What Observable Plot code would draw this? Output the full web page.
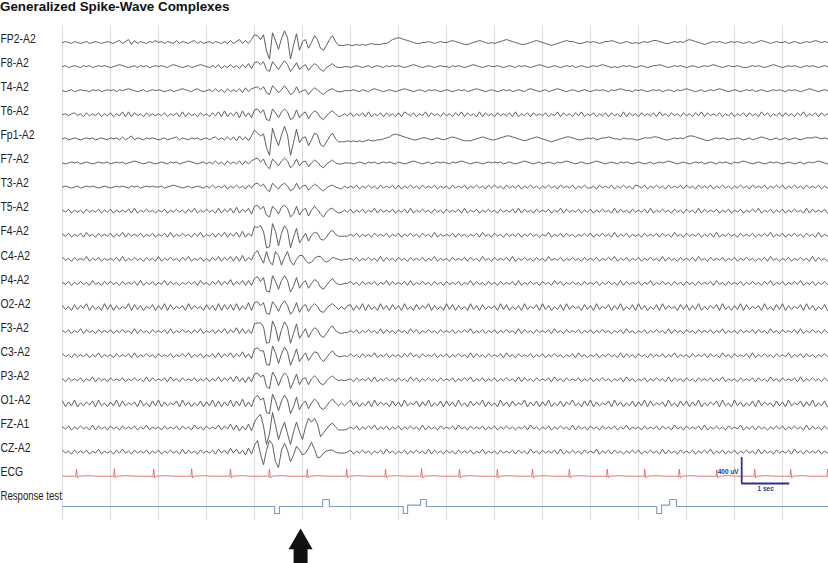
<!DOCTYPE html>
<html><head><meta charset="utf-8">
<script src="https://cdn.jsdelivr.net/npm/d3@7"></script>
<script src="https://cdn.jsdelivr.net/npm/@observablehq/plot@0.6"></script>
<style>
html,body{margin:0;padding:0;background:#fff;}
#title{height:20px;font:bold 13.4px "Liberation Sans",Arial,sans-serif;line-height:14px;color:#111;padding-left:0;white-space:nowrap;}
</style></head>
<body>
<div id="title">Generalized Spike-Wave Complexes</div>
<div id="chart"></div>
<script>
// ---- data -------------------------------------------------------------
// each EEG channel: 16 one-second segments, 16 samples each; char -> offset ('i' = 0, 1 step ~ 15 uV)
const FP2_A2 = "ijihjihijhijihij ihjkhjlgkhjihjik ijhjihkhjihjkhjh ijhjihjhkhjlhkhl qplq91skbmun1fra jlciplcaflpjfffg ffgfgfghggghhjlm nmlkjihhiijihiji ijkjihgghijkjihi hijklkjihgghijkj ihgfghijkjjihhij ijihijjkjihijihi hijijkkjihhijiji klkjihghijijihij ijihijhijkjihiji ijhijihijijkjiji";
const F8_A2 = "ijhijihjijhijiji hijkjihijhjijhij ijihjkjihijhijkj ihjhkgjhkhjgkhlg mnknfdnjfkokdhmf ikeiljfdhjlihhii hijihijhijihjiji jihijkjihijihiji ihjijihijkjihiji ijihijihjijihijk jihijihijijhijih ijijkjihihijijih ijihijjkjihijiji hijihijijkjihiji ijihhijijihijkji hijijihijijihiji";
const T4_A2 = "ihijhijiihjijhij ijhjijkjihijhiji jihijhijkjihjkih ijhkhjgkhjhkglhk lmjmgenkgjnjegmg ijeiljgehjkihhii ijihjihjkjihijih ijkjihijihjijihi jihijijhijkjihij ihijijhijihjkjih ijhijkjihijihiji hijijihjijkjiihj ijihijijhijihjij kjihijhijijkjihi jihijijhijihijij ihjijihijkjihiji";
const T6_A2 = "ijhjkhjgkhjhkgjh kgjhlglgkhjgkhjh jhkgjhkglgkhjgkh jgkhlgmgkhlfmgkf nokndcokfloldfnf jlejmkfdhkmjghjh kgjhkglgjhkgkhjg kgljhkgjhlgkhjgk hjgkhlgkhjglgkhj gkhjhkglgjhkgkhj hkgjhlgkhjgkhlgj hkgjhkgkhjglgkhj gkhjhkglhjgkhjgk hjgkhlgkhjhkgjhk gjhkgkhjglhkgjhk gkhjgkhlgjhkgkhj";
const Fp1_A2 = "ijhijihijijhijih jijhkhjlhjihjiji hijhijkhjihjijhi jhjkhjhkhkglhkgl roln91tjbmvm1ese jkbhomcafkoifffg fgfgfghgghhijkmn mlkjihhijjihijih ijkjihggghijkjih hijkllkjihghijkj ihgfghijkkjihhij ijhijjkjiihjiiih hijjjkkjihhijiji kllkjihghijijihi ijihijhijkjihijh ijhijihijjjkjiji";
const F7_A2 = "ihijijhijihijiij hijijhijkjihijih ijihjijhijkjihij hjhkhjgkhjhkgkhk mnjmfcmjfknkdgmf jkeiljfdhjlihhii ihijihjijhijijih jihijkjihijhijij ihjijkjihijihiji jijhijihijkjihij hijihjijkjihijih ijkjihijihjijihi jihijhijijkjihij ihijijhijihjijih jijkjihijihijiji hijihijhijijkjih";
const T3_A2 = "ijihijhijijihiji hijijihjijhijiji ijhijkjihijhijih jhkhjhkgjhkhjgkh lmjlgdmjgkmjegmg jkfiljgehjkihgjh jhkgjhkhjgkhjhkg kgjhkhjgkhjhkgjh jgkhjhkgjhkhjgkh khjgkhjhkgjhkhjg jhkhjgkhjhkgjhkh hjgkhjhkgjhkhjgk jhkgjhkhjgkhjhkg khjgkhjhkgjhkhjg jhkhjgkhjhkgjhkh kgjhkhjgkhjhkgjh";
const T5_A2 = "jhkgjhjgkhjhkgjh kgjhjhkglgjhkhjg jhkgjhkhjgkhlgjh khjglgkhlgmgkhlf noknecnkfmolcfne jldjnkfchklighjh kgjhkgjhlgkhjhkg jhkglgjhkhjgkhjg khjhkglgjhkgjhkh jgkhjhkglgkhjgkh jhkgjhlgkhjhkgjh kgjhkhjglgkhjgkh jhkglgjhkhjgkhjg khjglgkhjhkgjhkg jhkgjhkhlgjhkgjh kgjhkhjglgkhjhkg";
const F4_A2 = "jhkgjhkglhjgkhjh kgjhlgkhjhkgjhkg jhkglgjhkhjgkhlg jhkgkhlgkhlgmgkh rqsm56um7ksn5gpa fkcilkedglnjhhhh jhkgjhjgkhjhkgjh kgjhkhjgkhjglgjh jhkgkhjgjhkglhjg khjgkhjhkgjhkhjg jhlgjhkgkhjgjhkh kgjhkhjglgjhkgjh jgkhjhkgkhjglhjg khjhkgjhkglgjhkh jgkhjhkgjhkhlgjh kgjhkhjgkhjglgjh";
const C4_A2 = "khjgkhjhlgjhkgjh jhkglgjhkhjgkhjg lgjhkhjgkhlgjhkg jgkhlgkhlglgmgkh orkeqgcqmckqgcim mhefjllhfhkjihii jhkgjhkhjglgkhjg khjgkhjhkgjhlgjh jgkhjhkgkhjglhjg khjhkglgjhkhjgkh jglhjhkgjhkhjgkh jhkgjhkhlgjhkgjh kgjhkhjglgkhjgkh jhkglhjgkhjhkgjh kgjhkhjgjhkglhjg jhkgjhkhjglgkhjg";
const P4_A2 = "jhkgjhkhjglhjgkh khjgkhjhkglgjhkg jhlgkhjgjhkhkglh jgkhlgkhmgkhlglg npkoa9qkclql9fod ildimkecgknjhhii khjgkhjhkgjhlgkh jhkglgjhkhjgkhjg khjhkgjhlgkhjgkh jgkhjhkglgjhkhjg khjglhkgjhkhjgkh jhkgjhkhjglgkhjh kgjhlgjhkhjgkhjg khjgkhjhkglhjgkh jhkgjhkhjgkhlgjh kgjhkhlgjhkgjhkh";
const O2_A2 = "kgjflgkhmfkgjfmg lfkgjhmflgkfjhlf kgmflgjhkfmgkhjf lgkfmflglfmfkgnf nokncbokelpkbfnd jlejmjedhkmjgjgk lfkgmflgjfmgkflg kfmgjflgkhmfkgjf mglfkgjfmgkflgjh kfmglfjgkfmgjhlf mgkfjglfmgkhjflg kfmgjhlfkgmfjglf mgkfjglfmgkhjflg lfkgmfjgkhlfmgjf kgmflgjhkfmgjflg mfkgjhlfmgkfjglf";
const F3_A2 = "jhkgjhlgkhjgkhjh kgjhkhjglgkhjgkh jhkglgjhkhjgkhlg jhkgkhlgkhmglgkg qrrn67tm8ksn6gqb glcimkecglojhghh jhkgjhkhjglgkhjg khjglhkgjhkhjgkh jhkgjhkhlgjhkgjh kgjhkhjglgkhjgkh jhkglhjgkhjhkgjh kgjhkhjgjhkglhjg jhkgjhkhjglgkhjg khjgkhjhkgjhlgjh jgkhjhkgkhjglhjg khjhkglgjhkhjgkh";
const C3_A2 = "khjgkhjhkgjhlgjh jgkhjhkglgjhkhjg khjhkgjhkhlgjhkg jhkglgkhlgkhmgkf pqnn98slakrm8gpc hldimlfcgknjhhih khjgkhjhlgjhkgjh jgkhlhjgkhjhkgjh kgjhkhjglgkhjgkh jhkglhjgkhjhkgjh kgjhkhjgjhkglhjg jhkgjhkhjglgkhjg khjgkhjhkgjhlgjh jgkhjhkgkhjglhjg khjhkglgjhkhjgkh jhlgjhkgkhjgjhkh";
const P3_A2 = "jgkhjhkgjhlgkhjg khjhkgjhkhjglgkh jhkglhjgkhjhkgjh kgjhlgkhlgmgkflg oplnb9qlckpm9god jkdjmjedhkmjhihi jgkhjhkglgjhkhjg khjglhkgjhkhjgkh jhkgjhkhlgjhkgjh kgjhkhjglgkhjgkh jhkglhjgkhjhkgjh kgjhkhjgjhkglhjg jhkgjhkhjglgkhjg khjgkhjhkgjhlgjh jgkhjhkgkhjglhjg khjhkglgjhkhjgkh";
const O1_A2 = "lfkgmfjgkhlfmgjf kgmflgjhkfmgjflg mfkgjhlfmgkfjglf kgmflfkgmflgnfkf ormo98slblrm8fpc ildjnkecgknjgjgj mgkfjglfmgkhjflg kfmgjhlfkgmfjglf lgkfmgjflgkhmfkg jfmgkflgjhmfkglf kgmfjglfkhmgjflg mfkgjhlfmgkfjglf kgmflgjhkfmgjflg lfkgmfjgkhlfmgjf mgkfjglfmgkhjflg kfmgjhlfkgmfjglf";
const FZ_A1 = "jhkgjhkhjglgkhjg khjgkhjhkgjhlgjh jgkhjhkgkhjglhjg khjhlgkhmglfkgmf otwk1cyl6goc1eoe 6jsosm9dhlnjgggh jhkgjhkhlgjhkgjh kgjhkhjglgkhjgkh jhkglhjgkhjhkgjh kgjhkhjgjhkglhjg jhkgjhkhjglgkhjg khjgkhjhkgjhlgjh jgkhjhkgkhjglhjg khjhkglgjhkhjgkh jhlgjhkgkhjgjhkh kgjhkhjglgkhjgkh";
const CZ_A2 = "khjgkhjhkgjhlgjh jgkhlhjgkhjhkgjh kgjhkhjglgkhjgkh jhkglhkgmhlgkfmg pug5kuq82krk8fok fhmslcdhjkkihhhi kgjhkhjgjhkglhjg jhkgjhkhjglgkhjg khjgkhjhkgjhlgjh jgkhjhkgkhjglhjg khjhkglgjhkhjgkh jhlgjhkgkhjgjhkh kgjhkhjglgkhjgkh jhkgjhkhlgjhkgjh kgjhkhjglgkhjgkh jhkglhjgkhjhkgjh";

const channelNames = ["FP2-A2","F8-A2","T4-A2","T6-A2","Fp1-A2","F7-A2","T3-A2","T5-A2","F4-A2","C4-A2","P4-A2","O2-A2","F3-A2","C3-A2","P3-A2","O1-A2","FZ-A1","CZ-A2"];
const channelCodes = [FP2_A2,F8_A2,T4_A2,T6_A2,Fp1_A2,F7_A2,T3_A2,T5_A2,F4_A2,C4_A2,P4_A2,O2_A2,F3_A2,C3_A2,P3_A2,O1_A2,FZ_A1,CZ_A2];

// ECG: R-peak times (s) and R amplitudes (uV)
const ecgBeats = [0.29,1.08,1.90,2.69,3.50,4.31,5.10,5.92,6.73,7.48,8.27,9.06,9.79,10.56,11.35,12.13,12.85,13.63,14.42,15.17,15.94];
const ecgR     = [110,115,110,115,110,110,105,110,110,120,110,105,110,110,110,105,110,100,110,110,110];

// Response test trace: time (s) and level (uV)
const respT = [0,4.42,4.42,4.52,4.52,5.42,5.42,5.56,5.56,7.10,7.10,7.19,7.19,7.46,7.46,7.58,7.58,12.38,12.38,12.48,12.48,12.65,12.65,12.79,12.79,16];
const respV = [0,0,-108,-108,0,0,108,108,0,0,-108,-108,22,22,108,108,0,0,-108,-108,22,22,108,108,0,0];

const gridSec = d3.range(0, 17);          // 1-second divisions
const rowLabels = [...channelNames, "ECG", "Response test"];
const rowIndex  = [...d3.range(0, 19), 19.26];
const ROW_UV = 373;                        // vertical spacing between traces (uV)
const UNIT_UV = 15;                        // uV per code step
const scaleBar = {sec: 14.15, base: -6827, uv: 400, len: 1};
const arrowSec = 4.96;

// ---- build ------------------------------------------------------------
const ALPH = "0123456789abcdefghijklmnopqrstuvwxyz";
function decode(str, name, row){
  const out = [];
  str.trim().split(/\s+/).forEach((seg, k) => {
    for (let j = 0; j < seg.length; j++)
      out.push({name, t: k + j/seg.length, y: -row*ROW_UV + (ALPH.indexOf(seg[j]) - 18)*UNIT_UV});
  });
  return out;
}
const eeg = channelCodes.flatMap((c, i) => decode(c, channelNames[i], i));

const ecgBase = -18*ROW_UV;
const ecg = [{t:0, y:ecgBase}];
ecgBeats.forEach((b, i) => {
  const r = ecgR[i];
  ecg.push({t:b-0.04, y:ecgBase}, {t:b-0.015, y:ecgBase-12}, {t:b, y:ecgBase+r},
           {t:b+0.02, y:ecgBase-28}, {t:b+0.05, y:ecgBase}, {t:b+0.25, y:ecgBase+8}, {t:b+0.4, y:ecgBase});
});
ecg.push({t:16, y:ecgBase});
const respBase = -rowIndex[19]*ROW_UV;
const resp = respT.map((t, i) => ({t, y: respBase + respV[i]}));
const labels = rowLabels.map((name, i) => ({name, y: -rowIndex[i]*ROW_UV + (i === 19 ? 155 : 62), size: i === 19 ? 12 : 13}));

const labelFont = '"Liberation Sans",Arial,sans-serif';
const navy = "#2e3192";

const chart = Plot.plot({
  width: 828, height: 543,
  marginLeft: 0, marginRight: 0, marginTop: 5, marginBottom: 43,
  x: {domain: [0, 16], range: [62, 830], axis: null},
  y: {domain: [263, -7400], range: [5, 500], axis: null},
  style: {background: "#fff", overflow: "visible"},
  marks: [
    Plot.ruleX(gridSec, {stroke: "#dcdcdc", strokeWidth: 1}),
    Plot.line(eeg, {x: "t", y: "y", z: "name", stroke: "#555", strokeWidth: 0.95}),
    Plot.line(ecg, {x: "t", y: "y", stroke: "#e0686a", strokeWidth: 0.9}),
    Plot.line(resp, {x: "t", y: "y", stroke: "#7f9cc4", strokeWidth: 1.1}),
    Plot.text(labels, {y: "y", text: "name", frameAnchor: "left", textAnchor: "start",
      fontSize: "size", fontFamily: labelFont, fill: "#222"}),
    Plot.ruleX([scaleBar.sec], {y1: scaleBar.base, y2: scaleBar.base + scaleBar.uv, stroke: navy, strokeWidth: 1.8}),
    Plot.ruleY([scaleBar.base], {x1: scaleBar.sec, x2: scaleBar.sec + scaleBar.len, stroke: navy, strokeWidth: 1.8}),
    Plot.text([scaleBar.uv + " uV"], {x: scaleBar.sec, y: scaleBar.base + 186, text: d => d, textAnchor: "end", dx: -3,
      fontSize: 6.5, fontWeight: "bold", fill: navy, fontFamily: "Liberation Sans, Arial, sans-serif"}),
    Plot.text([scaleBar.len + " sec"], {x: scaleBar.sec + scaleBar.len/2, y: scaleBar.base - 78, text: d => d,
      fontSize: 6.5, fontWeight: "bold", fill: navy, fontFamily: "Liberation Sans, Arial, sans-serif"}),
    Plot.ruleX([arrowSec], {y1: -7800, y2: -8300, stroke: "#111", strokeWidth: 14}),
    Plot.dot([arrowSec], {x: d => d, y: -7737, symbol: "triangle", r: 8.9, fill: "#111", stroke: "none"})
  ]
});
// condense the row labels horizontally (Helvetica Condensed look)
const labelSet = new Set(rowLabels);
chart.querySelectorAll("text").forEach(t => {
  if (labelSet.has(t.textContent)) {
    const tr = t.getAttribute("transform") || "";
    t.setAttribute("transform", tr + " scale(0.8,1)");
  }
});
document.getElementById("chart").appendChild(chart);
</script>
</body></html>
